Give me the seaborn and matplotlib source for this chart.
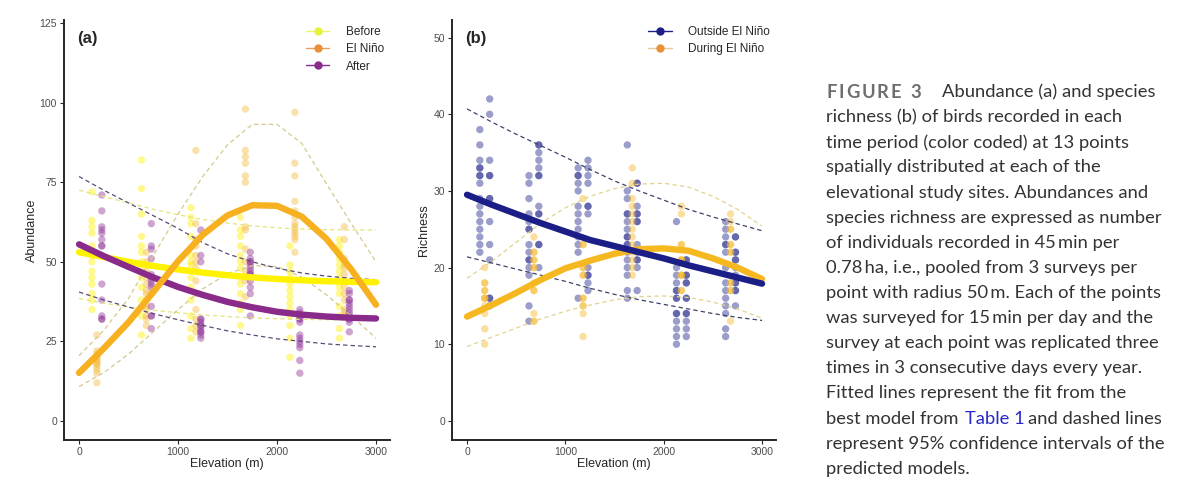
import matplotlib
matplotlib.use("Agg")
import matplotlib.pyplot as plt
from matplotlib.lines import Line2D
import pandas as pd
import seaborn as sns

sns.set_style("ticks")
plt.rcParams['font.family'] = ['Liberation Sans', 'DejaVu Sans']

# ---- data ----
site_elev = [180, 680, 1180, 1680, 2180, 2680]

# (a) abundance, 13 points per site and period
abund_before = [
    [72, 63, 61, 59, 55, 52, 50, 47, 45, 43, 40, 38, 35],
    [82, 73, 65, 58, 55, 53, 50, 48, 45, 42, 38, 33, 27],
    [67, 64, 62, 58, 52, 50, 49, 45, 42, 38, 33, 29, 26],
    [64, 60, 58, 55, 52, 50, 48, 45, 43, 40, 37, 35, 30],
    [55, 49, 47, 45, 43, 41, 39, 37, 35, 33, 30, 26, 20],
    [57, 55, 53, 51, 49, 47, 45, 42, 40, 36, 33, 29, 26],
]
abund_nino = [
    [27, 22, 21, 20, 20, 19, 19, 18, 18, 17, 16, 15, 12],
    [53, 50, 47, 45, 43, 41, 40, 38, 36, 35, 33, 32, 30],
    [85, 62, 57, 55, 52, 50, 48, 44, 40, 35, 32, 30, 28],
    [98, 85, 83, 81, 77, 75, 61, 60, 54, 50, 47, 44, 39],
    [97, 81, 77, 69, 66, 64, 62, 61, 60, 59, 58, 57, 53],
    [61, 57, 51, 49, 48, 46, 44, 42, 40, 38, 35, 34, 33],
]
abund_after = [
    [71, 66, 61, 60, 59, 57, 55, 55, 43, 38, 33, 32, 32],
    [62, 55, 54, 51, 46, 45, 44, 43, 42, 36, 33, 33, 29],
    [60, 52, 50, 32, 32, 31, 30, 30, 29, 28, 28, 27, 26],
    [53, 51, 50, 50, 49, 48, 47, 46, 46, 44, 42, 40, 33],
    [35, 34, 33, 32, 32, 31, 27, 26, 25, 24, 23, 19, 15],
    [41, 40, 38, 38, 37, 36, 35, 34, 33, 32, 32, 31, 28],
]

# (b) richness: outside El Nino = before and after years
rich_before = [
    [38, 36, 34, 33, 33, 32, 32, 31, 29, 28, 27, 26, 25, 24, 23, 22],
    [32, 31, 29, 27, 26, 25, 25, 23, 22, 21, 21, 20, 19, 15, 13],
    [33, 32, 32, 31, 30, 28, 27, 26, 25, 24, 23, 22, 16],
    [36, 30, 29, 27, 27, 26, 25, 24, 24, 23, 23, 22, 21, 20, 19, 17, 16],
    [26, 20, 19, 18, 17, 17, 16, 16, 14, 14, 13, 12, 11, 10],
    [26, 25, 24, 23, 23, 22, 20, 18, 17, 16, 15, 14, 12, 11],
]
rich_after = [
    [42, 40, 34, 32, 32, 29, 29, 26, 23, 21, 16, 16, 15],
    [36, 36, 35, 34, 33, 32, 32, 28, 27, 27, 23, 23, 20],
    [34, 33, 32, 31, 28, 28, 27, 20, 19, 19, 18, 17],
    [31, 31, 28, 27, 27, 26, 26, 23, 22, 21, 21, 20, 17],
    [21, 21, 19, 19, 18, 18, 16, 16, 14, 14, 13, 12, 11],
    [24, 24, 22, 22, 21, 21, 20, 19, 18, 18, 17, 17, 15],
]
rich_nino = [
    [20, 18, 18, 17, 17, 16, 16, 16, 15, 14, 12, 10],
    [24, 22, 22, 21, 21, 20, 20, 18, 17, 17, 14, 13, 13],
    [29, 23, 23, 20, 20, 19, 19, 16, 16, 15, 15, 14, 11],
    [33, 31, 29, 28, 27, 26, 25, 24, 23, 22, 21, 20, 19],
    [28, 27, 23, 23, 21, 21, 21, 19, 19, 19, 17, 17],
    [27, 26, 25, 25, 23, 23, 22, 22, 18, 18, 17, 17, 13],
]

# fitted models and 95% CI, read every 250 m
curve_elev = [0, 250, 500, 750, 1000, 1250, 1500, 1750, 2000, 2250, 2500, 2750, 3000]
fit_before = [53.0, 51.5, 50.0, 48.7, 47.6, 46.6, 45.8, 45.1, 44.6, 44.2, 43.9, 43.7, 43.6]
lo_before = [38.5, 37.0, 35.8, 34.8, 34.0, 33.3, 32.8, 32.4, 32.1, 31.9, 31.8, 31.7, 31.7]
hi_before = [72.5, 70.5, 68.5, 66.5, 64.8, 63.3, 62.2, 61.3, 60.7, 60.3, 60.1, 60.0, 60.0]
fit_nino = [15.1, 22.8, 31.0, 40.5, 50.2, 58.5, 64.6, 67.8, 67.6, 64.2, 57.2, 47.6, 36.5]
lo_nino = [10.8, 15.2, 21.0, 28.0, 35.0, 41.5, 46.3, 48.8, 48.5, 45.2, 39.6, 33.0, 26.0]
hi_nino = [20.5, 28.5, 38.5, 52.0, 65.0, 76.8, 86.8, 93.2, 93.2, 87.2, 74.5, 62.0, 50.0]
fit_after = [55.5, 51.8, 48.4, 45.1, 42.1, 39.6, 37.4, 35.7, 34.3, 33.4, 32.8, 32.4, 32.2]
lo_after = [40.5, 38.0, 35.8, 33.7, 31.8, 30.0, 28.3, 27.0, 25.8, 25.0, 24.2, 23.7, 23.3]
hi_after = [76.8, 72.5, 68.5, 64.5, 60.5, 56.0, 52.5, 50.0, 48.0, 46.5, 45.5, 44.8, 44.4]

fit_out = [29.5, 28.2, 27.0, 25.8, 24.7, 23.6, 22.8, 22.0, 21.2, 20.3, 19.5, 18.7, 17.9]
lo_out = [21.4, 20.6, 19.8, 19.0, 18.2, 17.3, 16.5, 15.8, 15.2, 14.6, 14.0, 13.5, 13.1]
hi_out = [40.7, 39.0, 37.4, 35.9, 34.4, 32.8, 31.3, 30.0, 28.8, 27.6, 26.6, 25.7, 24.8]
fit_dur = [13.6, 15.1, 16.7, 18.4, 19.9, 20.9, 21.8, 22.4, 22.5, 22.2, 21.2, 20.0, 18.5]
lo_dur = [9.7, 10.9, 12.1, 13.3, 14.3, 15.1, 15.8, 16.2, 16.3, 16.1, 15.5, 14.6, 13.4]
hi_dur = [18.6, 20.8, 23.3, 25.8, 27.8, 29.3, 30.3, 30.9, 31.0, 30.5, 29.3, 27.6, 25.4]

# ---- long tables for the points ----
shift = {"Before": -50, "El Niño": 0, "After": 50}

def long_table(groups):
    rows = []
    for period, label, vals in groups:
        for e, col in zip(site_elev, vals):
            for v in col:
                rows.append({"elev": e + shift[period], "value": v, "group": label})
    return pd.DataFrame(rows)

df_a = long_table([("Before", "Before", abund_before),
                   ("El Niño", "El Niño", abund_nino),
                   ("After", "After", abund_after)])
df_b = long_table([("Before", "Outside El Niño", rich_before),
                   ("After", "Outside El Niño", rich_after),
                   ("El Niño", "During El Niño", rich_nino)])

W, H = 1200, 497
fig = plt.figure(figsize=(W / 100, H / 100), dpi=100)
ax_a = fig.add_axes([64 / W, 1 - 440 / H, 326 / W, 420 / H])
ax_b = fig.add_axes([452 / W, 1 - 440 / H, 324 / W, 420 / H])

pts_a = {"Before": "#FFF000", "El Niño": "#F5BE45", "After": "#93399A"}
pts_b = {"Outside El Niño": "#22268C", "During El Niño": "#F6B829"}

sns.scatterplot(data=df_a, x="elev", y="value", hue="group", palette=pts_a,
                alpha=0.45, s=28, edgecolor="none", legend=False, ax=ax_a)
sns.scatterplot(data=df_b, x="elev", y="value", hue="group", palette=pts_b,
                alpha=0.45, s=28, edgecolor="none", legend=False, ax=ax_b)

def ci(ax, ys, color):
    sns.lineplot(x=curve_elev, y=ys, color=color, lw=0.9, ax=ax,
                 linestyle=(0, (3.5, 2.5)))

def fit(ax, ys, color):
    sns.lineplot(x=curve_elev, y=ys, color=color, lw=4.6, ax=ax)

ci(ax_a, lo_before, "#E2E57A"); ci(ax_a, hi_before, "#E2E57A")
ci(ax_a, lo_nino, "#D5C88C"); ci(ax_a, hi_nino, "#D5C88C")
ci(ax_a, lo_after, "#5A4A78"); ci(ax_a, hi_after, "#5A4A78")
fit(ax_a, fit_before, "#FFF200")
fit(ax_a, fit_after, "#8A2A8A")
fit(ax_a, fit_nino, "#F6B020")

ci(ax_b, lo_out, "#3E4268"); ci(ax_b, hi_out, "#3E4268")
ci(ax_b, lo_dur, "#E2D38E"); ci(ax_b, hi_dur, "#E2D38E")
fit(ax_b, fit_dur, "#F6B820")
fit(ax_b, fit_out, "#1A1E86")

for ax in (ax_a, ax_b):
    sns.despine(ax=ax)
    ax.spines["left"].set_linewidth(1.4)
    ax.spines["bottom"].set_linewidth(1.4)
    ax.tick_params(length=3, width=0.8, labelsize=7.5, labelcolor="#4D4D4D", pad=2)
    ax.set_xticks([0, 1000, 2000, 3000])
    ax.set_xlabel("Elevation (m)", fontsize=9)
    ax.xaxis.set_label_coords(0.5, -0.043)

ax_a.set_xlim(-152, 3141)
ax_a.set_ylim(-6, 126)
ax_a.set_yticks([0, 25, 50, 75, 100, 125])
ax_a.set_ylabel("Abundance", fontsize=9)
ax_a.yaxis.set_label_coords(-0.08, 0.5)

ax_b.set_xlim(-153, 3142)
ax_b.set_ylim(-2.5, 52.3)
ax_b.set_yticks([0, 10, 20, 30, 40, 50])
ax_b.set_ylabel("Richness", fontsize=9)
ax_b.yaxis.set_label_coords(-0.068, 0.5)

ax_a.text(0.04, 0.955, "(a)", transform=ax_a.transAxes, fontsize=12, fontweight="bold", va="center")
ax_b.text(0.04, 0.955, "(b)", transform=ax_b.transAxes, fontsize=12, fontweight="bold", va="center")

def handle(c_line, c_dot):
    return Line2D([], [], color=c_line, lw=1, marker="o", markersize=5,
                  markerfacecolor=c_dot, markeredgecolor=c_dot)

ax_a.legend([handle("#E9F56A", "#E4F53A"), handle("#E8A060", "#E8913A"), handle("#8B2B8B", "#8B2B8B")],
            ["Before", "El Niño", "After"], loc="upper right", bbox_to_anchor=(1.0, 1.0),
            frameon=False, fontsize=8.5, handlelength=2.0, handletextpad=1.4,
            labelspacing=0.45, borderaxespad=0.1)
ax_b.legend([handle("#1B1F87", "#1B1F87"), handle("#E8C89A", "#E8913A")],
            ["Outside El Niño", "During El Niño"], loc="upper right", bbox_to_anchor=(1.0, 1.0),
            frameon=False, fontsize=8.5, handlelength=2.0, handletextpad=1.4,
            labelspacing=0.45, borderaxespad=0.1)

# ---- caption ----
cap_font = ['Lato', 'DejaVu Sans']
cap_size = 13.2
cap_color = "#333333"

def fy(y_px):
    return 1 - y_px / H

renderer = fig.canvas.get_renderer()
x = 826
for ch in "FIGURE 3":
    t = fig.text(x / W, fy(92), ch, family=cap_font, fontsize=cap_size, fontweight="bold",
                 color="#6E6E6E", va="center", ha="left")
    x += t.get_window_extent(renderer=renderer).width + 2.0
fig.text(942 / W, fy(92), "Abundance (a) and species", family=cap_font, fontsize=cap_size,
         color=cap_color, va="center", ha="left")

cap_lines = [
    "richness (b) of birds recorded in each",
    "time period (color coded) at 13 points",
    "spatially distributed at each of the",
    "elevational study sites. Abundances and",
    "species richness are expressed as number",
    "of individuals recorded in 45\u2009min per",
    "0.78\u2009ha, i.e., pooled from 3 surveys per",
    "point with radius 50\u2009m. Each of the points",
    "was surveyed for 15\u2009min per day and the",
    "survey at each point was replicated three",
    "times in 3 consecutive days every year.",
    "Fitted lines represent the fit from the",
    None,
    "represent 95% confidence intervals of the",
    "predicted models.",
]
for i, line in enumerate(cap_lines):
    y = 117.3 + 25.1 * i
    if line is None:
        fig.text(826 / W, fy(y), "best model from", family=cap_font, fontsize=cap_size,
                 color=cap_color, va="center", ha="left")
        fig.text(965 / W, fy(y), "Table 1", family=cap_font, fontsize=cap_size,
                 color="#2828C8", va="center", ha="left")
        fig.text(1028 / W, fy(y), "and dashed lines", family=cap_font, fontsize=cap_size,
                 color=cap_color, va="center", ha="left")
    else:
        fig.text(826 / W, fy(y), line, family=cap_font, fontsize=cap_size,
                 color=cap_color, va="center", ha="left")

fig.savefig("out.png", dpi=100)
